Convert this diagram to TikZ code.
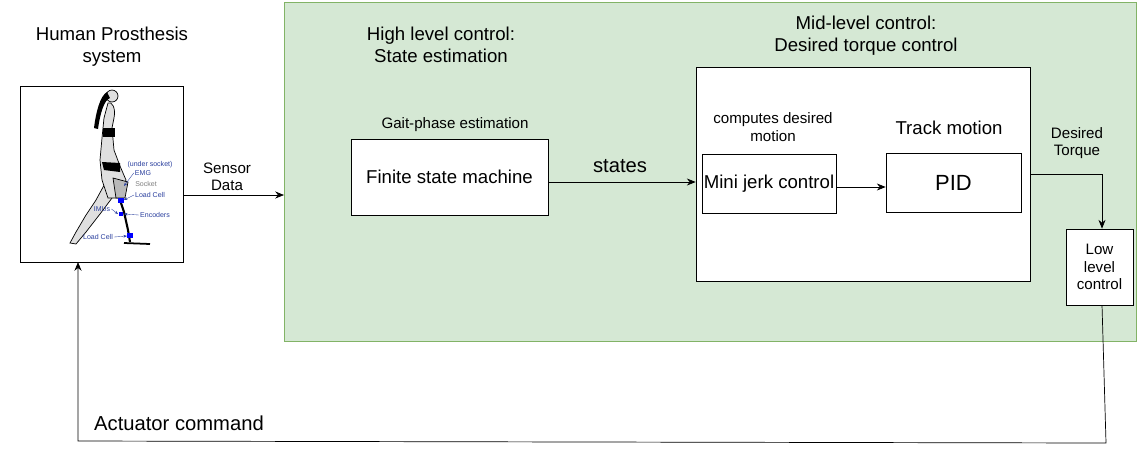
\documentclass[tikz,border=0pt]{standalone}
\usepackage{fontspec}
\setmainfont{Liberation Sans}
\usetikzlibrary{arrows.meta}

\definecolor{panelgreen}{HTML}{D5E8D4}
\definecolor{panelline}{HTML}{82B366}
\definecolor{sensorblue}{HTML}{2A3F9E}

\tikzset{
    block/.style={draw, fill=white, inner sep=0pt},
    title/.style={align=center, font=\fontsize{10.6}{12.5}\selectfont},
    small/.style={align=center, font=\fontsize{8.6}{10}\selectfont},
    conn/.style={-{Stealth[length=5pt,width=4pt]}, thin},
    tag/.style={text=sensorblue, font=\fontsize{4}{4}\selectfont\rmfamily, inner sep=0.5pt}
}

\begin{document}
\begin{tikzpicture}[x=0.02cm, y=-0.02cm]

    % Frame
    \useasboundingbox (0,0) rectangle (1138,461);

    % Green panel
    \draw[panelline, fill=panelgreen] (284,2) rectangle (1136,341);

    % Left side: prosthesis system
    \node[title] (humantitle) at (112,47) {Human Prosthesis\\system};
    \draw[fill=white] (20,86) rectangle (183,262);

    % Walking figure (rough sketch)
    \fill[gray!25, draw=black, thin] (108,178) -- (96,200) -- (86,215) -- (76,232) -- (70,243) -- (76,244)
        -- (86,232) -- (100,214) -- (112,198) -- cycle;
    \fill[gray!25, draw=black, thin] (108,103) .. controls (112,101) and (116,108) .. (114,118)
        -- (112,128) -- (114,150) -- (120,166) -- (126,180) -- (118,198) -- (108,198) -- (102,180)
        -- (100,160) -- (102,138) -- (104,118) -- cycle;
    \fill[gray!25, draw=black, thin] (112,96) circle (6);
    \fill[black] (107,92) .. controls (100,96) and (96,112) .. (94,128) -- (98,129) .. controls (100,114) and (104,100) .. (110,98) -- cycle;
    \fill[black] (103,128) rectangle (115,137);
    \fill[black] (102,162) -- (120,163) -- (120,172) -- (104,170) -- cycle;
    \fill[gray!55, draw=black, thin] (113,178) -- (128,182) -- (125,198) -- (116,198) -- cycle;
    \draw[line width=1.2pt] (120,200) -- (124,212) -- (128,230) -- (130,242);
    \draw[line width=1pt] (124,243) -- (150,244);
    \fill[blue] (118,198) rectangle (124,203);
    \fill[blue] (119,212) rectangle (123,216);
    \fill[blue] (127,233) rectangle (133,238);

    % Sensor tags
    \node[tag] (tagsock) at (150,165) {(under socket)};
    \node[tag] (tagemg) at (143,173) {EMG};
    \node[tag, text=gray] (tagsocket) at (146,184) {Socket};
    \node[tag] (tagload) at (150,195) {Load Cell};
    \node[tag] (tagimu) at (102,209) {IMUs};
    \node[tag] (tagenc) at (155,215) {Encoders};
    \node[tag] (tagload2) at (98,237) {Load Cell};
    \draw[sensorblue, -{Stealth[length=2pt]}, very thin] (tagemg.west) -- (124,186);
    \draw[sensorblue, -{Stealth[length=2pt]}, very thin] (tagload.west) -- (124,200);
    \draw[sensorblue, -{Stealth[length=2pt]}, very thin] (tagenc.west) -- (124,214);
    \draw[sensorblue, -{Stealth[length=2pt]}, very thin] (tagimu.east) -- (118,214);
    \draw[sensorblue, -{Stealth[length=2pt]}, very thin] (tagload2.east) -- (127,236);

    \node[small] (sensordata) at (227,177) {Sensor\\Data};
    \coordinate (panelin) at (284,195);
    \draw[conn] (183,195) -- (panelin);

    % High level control
    \node[title] (hightitle) at (441,45) {High level control:\\State estimation};
    \node[small] (gaitlabel) at (455,125) {Gait-phase estimation};
    \node[block, title, minimum width=197*0.02cm, minimum height=76*0.02cm] (fsm) at (449.5,177) {Finite state machine};

    % Mid-level control
    \node[title] (midtitle) at (866,36) {Mid-level control:\\Desired torque control};
    \node[block, minimum width=334*0.02cm, minimum height=214*0.02cm] (midbox) at (863,174) {};
    \node[small] (computes) at (773,127) {computes desired\\motion};
    \node[block, title, minimum width=134*0.02cm, minimum height=59*0.02cm] (minijerk) at (769,183.5) {Mini jerk control};
    \node[title] (tracklabel) at (949,128) {Track motion};
    \node[block, minimum width=135*0.02cm, minimum height=59*0.02cm, font=\fontsize{12.5}{14}\selectfont] (pid) at (953.5,182.5) {PID};

    \node[title, font=\fontsize{11.5}{13}\selectfont] (states) at (620,166) {states};
    \draw[conn] (fsm.east |- 0,182) -- (midbox.west |- 0,182);
    \draw[conn] (minijerk.east |- 0,187) -- (pid.west |- 0,187);

    % Low level control
    \node[small] (torquelabel) at (1077,143) {Desired\\Torque};
    \node[block, small, minimum width=67*0.02cm, minimum height=76*0.02cm] (lowlevel) at (1099.5,267) {Low\\level\\control};
    \coordinate (corner) at (1102,174);
    \draw[thin] (midbox.east |- corner) -- (corner);
    \draw[conn] (corner) -- (corner |- lowlevel.north);

    % Feedback to the human
    \coordinate (fbright) at (1106,443);
    \coordinate (fbleft) at (78,441);
    \draw[conn] (1102,305) -- (fbright) -- (fbleft) -- (78,262);
    \node[title, anchor=west, font=\fontsize{11.5}{13}\selectfont] (actuator) at (88,423) {Actuator command};

\end{tikzpicture}
\end{document}
